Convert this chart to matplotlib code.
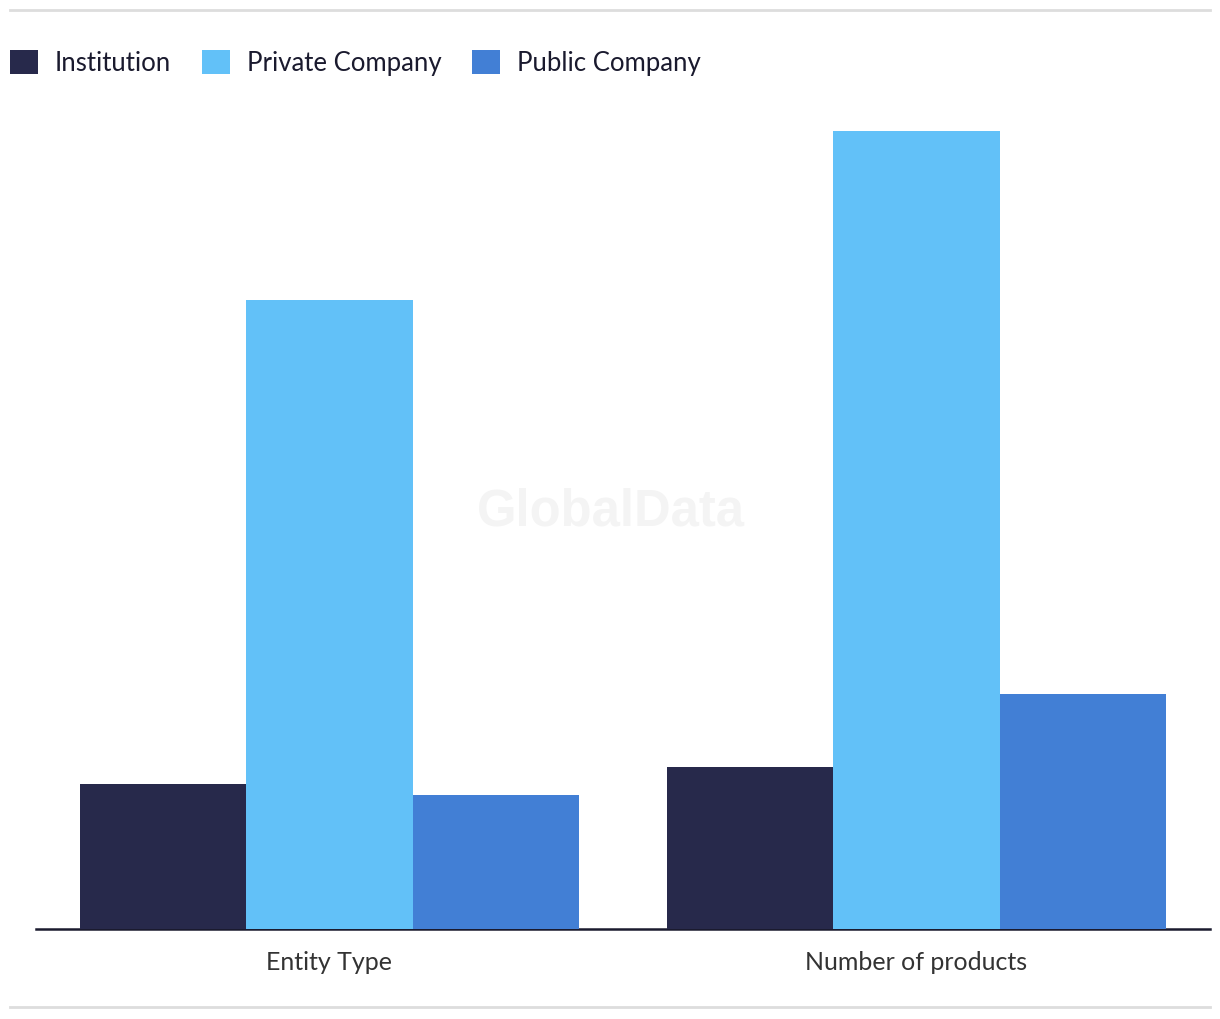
import matplotlib.pyplot as plt
import numpy as np
from matplotlib.lines import Line2D
from matplotlib.patches import Patch

# ── Data (no axis shown) ──
categories = ["Entity Type", "Number of products"]
series_names = ["Institution", "Private Company", "Public Company"]
institution = [13.0, 14.5]
private_company = [56.4, 71.6]
public_company = [12.0, 21.1]

colors = ["#27294b", "#62c1f8", "#427fd5"]
values = [institution, private_company, public_company]

plt.rcParams["font.family"] = ["Lato", "DejaVu Sans"]

W, H = 1220, 1020
fig = plt.figure(figsize=(W / 100, H / 100), dpi=100)
ax = fig.add_axes([36 / W, 1 - 930 / H, (1210 - 36) / W, (930 - 111) / H])

x = np.arange(len(categories))
width = 0.2836
for i, (vals, c) in enumerate(zip(values, colors)):
    ax.bar(x + (i - 1) * width, vals, width=width, color=c, label=series_names[i], zorder=3)

ax.set_xlim(-0.5, 1.5)
ax.set_ylim(0, 73.45)
ax.set_yticks([])
ax.set_xticks(x)
ax.set_xticklabels(categories, fontsize=18, color="#333333")
ax.tick_params(axis="x", length=0, pad=15)
for s in ["top", "right", "left"]:
    ax.spines[s].set_visible(False)
ax.spines["bottom"].set_color("#1a1a2e")
ax.spines["bottom"].set_linewidth(1.8)

# watermark
fig.text(611 / W, 1 - 512 / H, "GlobalData", fontsize=36.5, fontweight="bold",
         color="#f4f4f4", ha="center", va="center", family=["Liberation Sans"], zorder=0)

# top and bottom separator lines
fig.add_artist(Line2D([10 / W, 1210 / W], [1 - 11 / H, 1 - 11 / H], color="#dddddd", lw=2))
fig.add_artist(Line2D([10 / W, 1210 / W], [1 - 1008 / H, 1 - 1008 / H], color="#dddddd", lw=2))

handles = [Patch(facecolor=c, label=n) for c, n in zip(colors, series_names)]
fig.legend(handles=handles, loc="center left", bbox_to_anchor=(10 / W, 1 - 63.5 / H), ncol=3,
           frameon=False, fontsize=18.5, handlelength=1.09, handleheight=1.09,
           handletextpad=0.66, columnspacing=1.2, borderaxespad=0, borderpad=0,
           labelcolor="#1a1a2e")

fig.savefig("out.png", dpi=100, facecolor="white")
